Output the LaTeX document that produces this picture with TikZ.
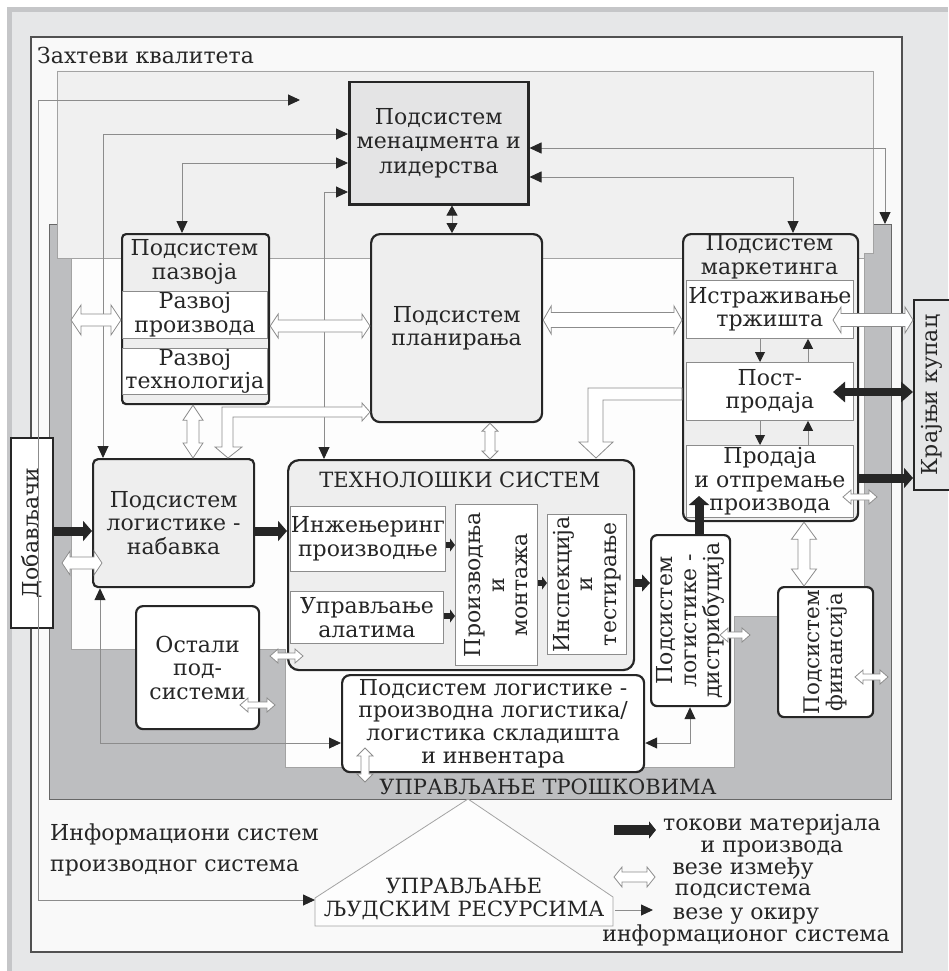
\documentclass[tikz,border=0pt]{standalone}
\usepackage{fontspec}
\setmainfont{DejaVu Serif}
\usetikzlibrary{arrows.meta,calc}

\definecolor{bgouter}{HTML}{E6E7E8}
\definecolor{bgrim}{HTML}{C5C6C8}
\definecolor{qframe}{HTML}{F9F9F9}
\definecolor{topzone}{HTML}{F0F0F0}
\definecolor{costzone}{HTML}{BDBEC0}
\definecolor{whitezone}{HTML}{FDFDFD}
\definecolor{boxgray}{HTML}{EEEEEE}
\definecolor{mgmtgray}{HTML}{E4E4E5}
\definecolor{ink}{HTML}{262626}
\definecolor{linegray}{HTML}{8C8C8C}

% horizontal hollow double arrow: left point, right point, half shaft, half head, head length
\newcommand\hollowH[5]{%
  \filldraw[hollow] let \p1=#1, \p2=#2 in
    (\x1,\y1) -- (\x1+#5,\y1+#4) -- (\x1+#5,\y1+#3) -- (\x2-#5,\y1+#3) -- (\x2-#5,\y1+#4)
    -- (\x2,\y1) -- (\x2-#5,\y1-#4) -- (\x2-#5,\y1-#3) -- (\x1+#5,\y1-#3) -- (\x1+#5,\y1-#4) -- cycle;}
% vertical hollow double arrow: top point, bottom point, half shaft, half head, head length
\newcommand\hollowV[5]{%
  \filldraw[hollow] let \p1=#1, \p2=#2 in
    (\x1,\y1) -- (\x1+#4,\y1-#5) -- (\x1+#3,\y1-#5) -- (\x1+#3,\y2+#5) -- (\x1+#4,\y2+#5)
    -- (\x1,\y2) -- (\x1-#4,\y2+#5) -- (\x1-#3,\y2+#5) -- (\x1-#3,\y1-#5) -- (\x1-#4,\y1-#5) -- cycle;}

\begin{document}
\begin{tikzpicture}[x=1pt,y=-1pt,
  txt/.style={font=\fontsize{22}{23.5}\selectfont, text=ink, align=center, inner sep=0pt},
  caps/.style={font=\fontsize{21}{23.5}\selectfont},
  box/.style={txt, draw=ink, line width=2.2pt, rounded corners=5pt, anchor=north west},
  sub/.style={txt, draw=linegray, line width=0.8pt, fill=white, anchor=north west},
  link/.style={draw=linegray, line width=0.9pt},
  flow/.style={draw=ink, line width=9pt, -{Triangle[length=9pt,width=20pt]}},
  flowsm/.style={draw=ink, line width=6pt, -{Triangle[length=5pt,width=13pt]}},
  hollow/.style={fill=white, draw=linegray, line width=0.8pt},
  >={Triangle[length=12pt,width=11pt,color=ink]}
]
\useasboundingbox (0,0) rectangle (948,971);

% page background and rim
\fill[white] (0,0) rectangle (948,971);
\fill[bgrim] (7,7) rectangle (948,971);
\fill[bgouter] (12,12) rectangle (948,971);

% quality requirements frame
\draw[fill=qframe, draw=ink!80, line width=1.3pt] (31,37) rectangle (902,952);
\node[txt, anchor=west] (quality) at (37,55) {Захтеви квалитета};

% cost management frame
\draw[fill=costzone, draw=ink!70, line width=1pt] (49,224) rectangle (891,799);
% upper zone
\draw[fill=topzone, draw=linegray!80, line width=0.8pt]
  (57,71) -- (873,71) -- (873,253) -- (864,253) -- (864,258) -- (57,258) -- cycle;
% inner zone
\draw[fill=whitezone, draw=linegray!80, line width=0.8pt]
  (71,258) -- (864,258) -- (864,616) -- (734,616) -- (734,767) -- (285,767) -- (285,649) -- (71,649) -- cycle;
\node[txt, font=\fontsize{21}{23}\selectfont] (costlbl) at (548,787) {УПРАВЉАЊЕ ТРОШКОВИМА};

% human resources pentagon
\draw[fill=whitezone, draw=linegray!80, line width=0.8pt]
  (468,799) -- (613,897) -- (613,926) -- (315,926) -- (315,898) -- cycle;
\coordinate (hrL) at (315,900);
\node[txt, caps] (hr) at (464,899) {УПРАВЉАЊЕ\\ЉУДСКИМ РЕСУРСИМА};

% subsystems
\node[box, fill=mgmtgray, rounded corners=0pt, line width=2.5pt, minimum width=179pt, minimum height=122pt, font=\fontsize{22}{24.5}\selectfont] (mgmt) at (348,81) {Подсистем\\менаџмента и\\лидерства};

\node[box, fill=boxgray, minimum width=147pt, minimum height=170pt, rounded corners=4pt] (razvoj) at (121,233) {};
\node[txt] (razvojT) at (194.5,262) {Подсистем\\пазвоја};
\node[sub, minimum width=145pt, minimum height=47pt] (rproiz) at (122,291) {Развој\\производа};
\node[sub, minimum width=145pt, minimum height=46pt] (rtech) at (122,348) {Развој\\технологија};

\node[box, fill=boxgray, minimum width=171pt, minimum height=188pt, rounded corners=9pt] (plan) at (370,233) {Подсистем\\планирања};

\node[box, fill=boxgray, minimum width=175pt, minimum height=287pt, rounded corners=8pt] (mkt) at (682,233) {};
\node[txt] (mktT) at (769.5,257) {Подсистем\\маркетинга};
\node[sub, minimum width=167pt, minimum height=58pt] (istr) at (686,280) {Истраживање\\тржишта};
\node[sub, minimum width=167pt, minimum height=58pt] (post) at (686,362) {Пост-\\продаја};
\node[sub, minimum width=167pt, minimum height=72pt] (prod) at (686,445) {Продаја\\и отпремање\\производа};

\node[box, fill=bgouter, rounded corners=0pt, line width=1.8pt, minimum width=36pt, minimum height=190pt] (kupac) at (913,299) {};
\node[txt, rotate=90] (kupacT) at (kupac.center) {Крајњи купац};

\node[box, fill=white, rounded corners=0pt, line width=1.8pt, minimum width=42pt, minimum height=190pt] (dob) at (10,437) {};
\node[txt, rotate=90] (dobT) at (dob.center) {Добављачи};

\node[box, fill=boxgray, minimum width=161pt, minimum height=128pt] (nab) at (92,458) {Подсистем\\логистике -\\набавка};

\node[box, fill=boxgray, minimum width=346pt, minimum height=210pt, rounded corners=11pt] (tech) at (287,459) {};
\node[txt, caps] (techT) at (460,480) {ТЕХНОЛОШКИ СИСТЕМ};
\node[sub, minimum width=155pt, minimum height=65pt] (inz) at (290,506) {Инжењеринг\\производње};
\node[sub, minimum width=153pt, minimum height=52pt] (alat) at (290,591) {Управљање\\алатима};
\node[sub, minimum width=82pt, minimum height=161pt] (proiz) at (455,504) {};
\node[txt, rotate=90] (proizT) at (proiz.center) {Производња\\и\\монтажа};
\node[sub, minimum width=79pt, minimum height=140pt] (insp) at (547,514) {};
\node[txt, rotate=90] (inspT) at (insp.center) {Инспекција\\и\\тестирање};

\node[box, fill=white, minimum width=79pt, minimum height=171pt, rounded corners=6pt] (dist) at (650,534) {};
\node[txt, rotate=90] (distT) at (dist.center) {Подсистем\\логистике -\\дистрибуција};

\node[box, fill=white, minimum width=95pt, minimum height=130pt, rounded corners=6pt] (fin) at (777,586) {};
\node[txt, rotate=90, font=\fontsize{21.5}{23.5}\selectfont] (finT) at (fin.center) {Подсистем\\финансија};

\node[box, fill=white, minimum width=123pt, minimum height=123pt, rounded corners=7pt] (ostali) at (135,605) {Остали\\под-\\системи};

\node[box, fill=white, minimum width=302pt, minimum height=97pt, rounded corners=8pt, font=\fontsize{22}{22.8}\selectfont] (logp) at (341,674) {Подсистем логистике -\\производна логистика/\\логистика складишта\\и инвентара};

% information links
\coordinate (infoTip) at (300,100);
\coordinate (costTop) at (885,224);
\draw[link,<->] (infoTip) -- (38,100) -- (38,900) -- (hrL);
\draw[link,<->] (mgmt.west |- 0,134) -| (nab.north -| 103,0);
\draw[link,<->] (mgmt.west |- 0,163) -| (razvoj.north -| 182,0);
\draw[link,<->] (mgmt.west |- 0,192) -| (tech.north -| 324,0);
\draw[link,<->] (mgmt.east |- 0,148) -| (costTop);
\draw[link,<->] (mgmt.east |- 0,177) -| (mkt.north -| 793,0);
\draw[link,<->,>={Triangle[length=10pt,width=11pt,color=ink]}] (mgmt.south -| 452,0) -- (plan.north -| 452,0);
\draw[link,<->] (nab.south -| 100,0) |- (logp.west |- 0,743);
\draw[link,<->] (logp.east |- 0,743) -| (dist.south -| 690,0);
\begin{scope}[>={Triangle[length=10pt,width=10pt,color=ink]}]
\draw[link,->] (istr.south -| 760,0) -- (post.north -| 760,0);
\draw[link,->] (post.north -| 808,0) -- (istr.south -| 808,0);
\draw[link,->] (post.south -| 760,0) -- (prod.north -| 760,0);
\draw[link,->] (prod.north -| 808,0) -- (post.south -| 808,0);
\end{scope}

% material and product flows
\coordinate (distTip) at (699,496);
\coordinate (postTip) at (833,392);
\draw[flow] (dob.east |- 0,531) -- (nab.west |- 0,531);
\draw[flow] (nab.east |- 0,531) -- (tech.west |- 0,531);
\draw[flowsm] (inz.east |- 0,545) -- (proiz.west |- 0,545);
\draw[flowsm] (alat.east |- 0,616) -- (proiz.west |- 0,616);
\draw[flowsm] (proiz.east |- 0,583) -- (insp.west |- 0,583);
\draw[flow, line width=8pt, -{Triangle[length=8pt,width=17pt]}] (tech.east |- 0,583) -- (dist.west |- 0,583);
\draw[flow] (dist.north -| 699,0) -- (distTip);
\draw[flow] (mkt.east |- 0,478) -- (kupac.west |- 0,478);
\draw[flow, line width=8pt, {Triangle[length=12pt,width=20pt]}-{Triangle[length=12pt,width=20pt]}] (postTip) -- (kupac.west |- 0,392);

% links between subsystems
\coordinate (wzL) at (71,320);
\hollowH{(wzL)}{(razvoj.west |- 0,320)}{6pt}{15pt}{10pt}
\hollowH{(razvoj.east |- 0,326)}{(plan.west |- 0,326)}{6pt}{12pt}{8pt}
\hollowH{(plan.east |- 0,320)}{(mkt.west |- 0,320)}{7.5pt}{14pt}{8pt}
\hollowH{(833,320)}{(kupac.west |- 0,320)}{6.5pt}{13pt}{8pt}
\hollowV{(razvoj.south -| 193,0)}{(nab.north -| 193,0)}{6pt}{10pt}{15pt}
\hollowV{(plan.south -| 490,0)}{(tech.north -| 490,0)}{5pt}{8pt}{8pt}
\hollowV{(mkt.south -| 804,0)}{(fin.north -| 804,0)}{6pt}{12.5pt}{17pt}
\hollowH{(62,563)}{(102,563)}{6pt}{12pt}{8pt}
\hollowH{(270,656)}{(303,656)}{3pt}{7pt}{8pt}
\hollowH{(240,705)}{(275,705)}{3pt}{7pt}{8pt}
\hollowV{(365,748)}{(365,782)}{4pt}{8pt}{8pt}
\hollowH{(843,497)}{(877,497)}{3pt}{7pt}{8pt}
\hollowH{(720,635)}{(750,635)}{3pt}{7pt}{8pt}
\hollowH{(855,677)}{(888,677)}{3pt}{7pt}{8pt}
% planning -> procurement logistics
\filldraw[hollow] (370,412) -- (362,403) -- (362,407) -- (222,407) -- (222,447) -- (215,447) -- (228,458)
  -- (242,447) -- (233,447) -- (233,417) -- (362,417) -- (362,421) -- cycle;
% marketing -> technological system
\filldraw[hollow] (682,388) -- (588,388) -- (588,442) -- (579,442) -- (596,458) -- (613,442) -- (603,442)
  -- (603,400) -- (682,400) -- cycle;

% information system caption
\node[txt, align=left, anchor=west, font=\fontsize{22}{31}\selectfont] (infosys) at (50,850) {Информациони систем\\производног система};

% legend
\coordinate (lg1a) at (614,830); \coordinate (lg1b) at (656,830);
\draw[flow, line width=10pt, -{Triangle[length=7pt,width=17pt]}] (lg1a) -- (lg1b);
\node[txt, font=\fontsize{22}{22}\selectfont] (lg1) at (772,836) {токови материјала\\и производа};
\hollowH{(614,877)}{(655,877)}{5pt}{10pt}{8pt}
\node[txt, font=\fontsize{22}{21}\selectfont] (lg2) at (743,878) {везе између\\подсистема};
\coordinate (lg3a) at (615,910); \coordinate (lg3b) at (653,910);
\draw[link,->] (lg3a) -- (lg3b);
\node[txt, font=\fontsize{22}{22}\selectfont] (lg3) at (746,927) {везе у окиру\\информационог система};
\end{tikzpicture}
\end{document}
